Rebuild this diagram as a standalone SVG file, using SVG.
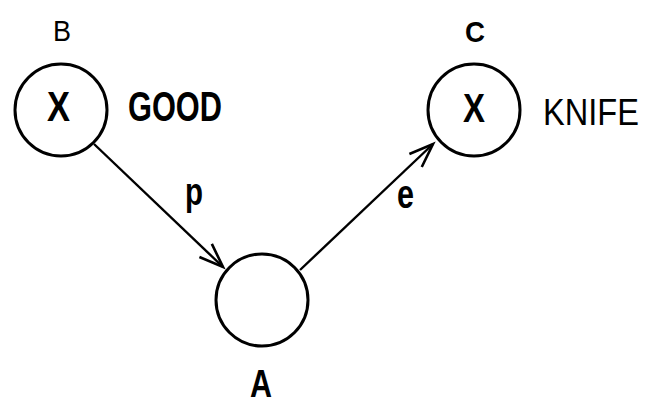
<svg xmlns="http://www.w3.org/2000/svg" width="647" height="404" viewBox="0 0 647 404">
<defs>
<style>
.node{fill:none;stroke:#000;stroke-width:3}
.edge{stroke:#000;stroke-width:2.4;fill:none}
.bold{font-family:"Liberation Sans",Arial,sans-serif;font-weight:bold;fill:#000}
.thin{font-family:"Liberation Sans",Arial,sans-serif;font-weight:normal;fill:#000}
</style>
<marker id="arr" markerUnits="userSpaceOnUse" markerWidth="30" markerHeight="30" viewBox="-26 -12 30 24" refX="0" refY="0" orient="auto">
<path d="M-24,-9 L0,0 L-24,9" fill="none" stroke="#000" stroke-width="2.6" stroke-linejoin="miter"/>
</marker>
</defs>
<rect width="647" height="404" fill="#fff"/>
<g id="connectors">
<line class="edge" x1="94" y1="144" x2="223" y2="267" marker-end="url(#arr)"/>
<text class="bold" x="185" y="205" font-size="38" textLength="18" lengthAdjust="spacingAndGlyphs">p</text>
<line class="edge" x1="300" y1="270" x2="433" y2="144" marker-end="url(#arr)"/>
<text class="bold" x="397" y="208" font-size="40" textLength="17" lengthAdjust="spacingAndGlyphs">e</text>
</g>
<g id="node-B">
<circle class="node" cx="61" cy="110" r="46"/>
<text class="bold" x="47" y="121" font-size="42" textLength="23" lengthAdjust="spacingAndGlyphs">X</text>
<text class="thin" x="53" y="41" font-size="29" textLength="18" lengthAdjust="spacingAndGlyphs">B</text>
<text class="bold" x="128" y="121" font-size="42" textLength="94" lengthAdjust="spacingAndGlyphs">GOOD</text>
</g>
<g id="node-C">
<circle class="node" cx="474" cy="110" r="46"/>
<text class="bold" x="463" y="122" font-size="41" textLength="22" lengthAdjust="spacingAndGlyphs">X</text>
<text class="bold" x="465" y="42" font-size="30" textLength="20" lengthAdjust="spacingAndGlyphs">C</text>
<text class="thin" transform="translate(543,125) scale(0.88,1)" x="0" y="0" font-size="37">KNIFE</text>
</g>
<g id="node-A">
<circle class="node" cx="262" cy="300" r="46"/>
<text class="bold" x="250" y="397" font-size="38" textLength="22" lengthAdjust="spacingAndGlyphs">A</text>
</g>
</svg>
